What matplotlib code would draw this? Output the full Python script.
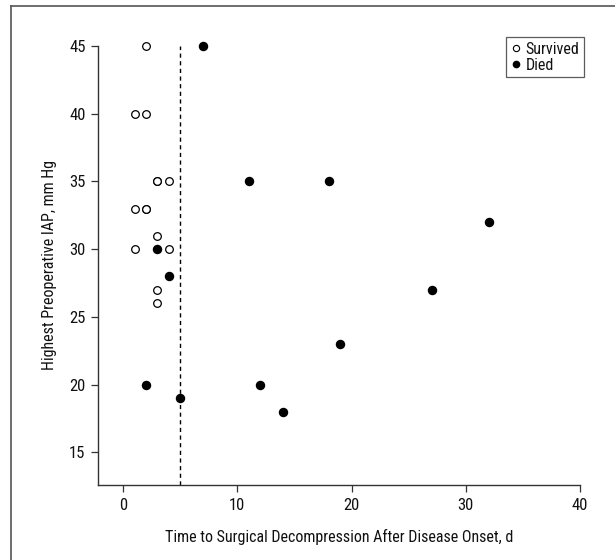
import matplotlib
matplotlib.use("Agg")
import matplotlib.pyplot as plt
from matplotlib.lines import Line2D

plt.rcParams['font.family'] = ['Liberation Sans Narrow', 'DejaVu Sans Condensed',
                               'Roboto Condensed', 'Open Sans Condensed', 'Liberation Sans']
plt.rcParams['font.stretch'] = 'condensed'

# days to decompression / highest preoperative IAP
survived_days = [2, 1, 2, 3, 3, 4, 1, 2, 2, 3, 1, 4, 3, 3]
survived_iap = [45, 40, 40, 35, 35, 35, 33, 33, 33, 31, 30, 30, 27, 26]
died_days = [7, 11, 18, 32, 3, 4, 27, 19, 2, 12, 5, 14]
died_iap = [45, 35, 35, 32, 30, 28, 27, 23, 20, 20, 19, 18]
cutoff_day = 5

fig = plt.figure(figsize=(6.15, 5.6), dpi=100)
ax = fig.add_axes([98/615, 1 - 485/560, (580 - 98)/615, (485 - 46)/560])

ax.plot(survived_days, survived_iap, 'o', ms=5.5, mfc='white', mec='black',
        mew=0.9, ls='none', clip_on=False)
ax.plot(died_days, died_iap, 'o', ms=5.8, mfc='black', mec='black',
        ls='none', clip_on=False)
ax.axvline(cutoff_day, color='black', ls=(0, (3, 2.5)), lw=1.0)

ax.set_xlim(-2.2, 40)
ax.set_ylim(12.6, 45)
ax.set_xticks([0, 10, 20, 30, 40])
ax.set_yticks([15, 20, 25, 30, 35, 40, 45])
for s in ['top', 'right']:
    ax.spines[s].set_visible(False)
for s in ['left', 'bottom']:
    ax.spines[s].set_color('#333333')
    ax.spines[s].set_linewidth(1.0)
ax.tick_params(direction='out', length=5, width=0.9, color='#333333',
               labelsize=12, pad=4, labelcolor='#111111')
ax.set_xlabel("Time to Surgical Decompression After Disease Onset, d",
              fontsize=11.5, color='#111111', labelpad=12)
ax.set_ylabel("Highest Preoperative IAP, mm Hg", fontsize=11.5,
              color='#111111', labelpad=9)

handles = [
    Line2D([], [], marker='o', ls='none', ms=4.5, mfc='white', mec='black', mew=0.8),
    Line2D([], [], marker='o', ls='none', ms=4.5, mfc='black', mec='black'),
]
leg = fig.legend(handles, ["Survived", "Died"], loc='upper right',
                 bbox_to_anchor=(584/615, 1 - 37/560), fontsize=11.5,
                 frameon=True, fancybox=False, handlelength=0.6,
                 handletextpad=0.3, borderpad=0.3, labelspacing=0.05,
                 borderaxespad=0)
leg.get_frame().set_edgecolor('#333333')
leg.get_frame().set_linewidth(0.9)
for t in leg.get_texts():
    t.set_color('#111111')

# outer panel border (top and left edges)
fig.add_artist(Line2D([11/615, 1], [1 - 6/560, 1 - 6/560],
                      transform=fig.transFigure, color='#555555', lw=1.2))
fig.add_artist(Line2D([11/615, 11/615], [0, 1 - 6/560],
                      transform=fig.transFigure, color='#555555', lw=1.2))

fig.savefig("out.png", dpi=100)
